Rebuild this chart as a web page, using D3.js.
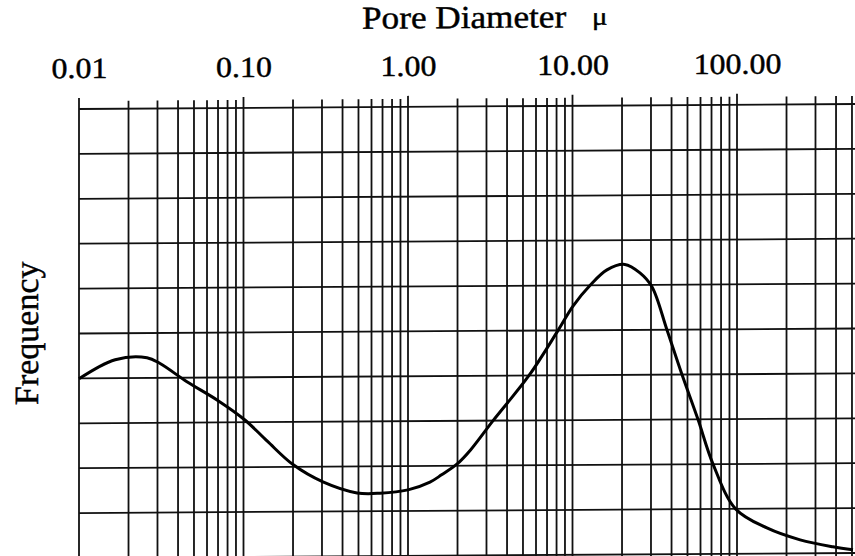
<!DOCTYPE html>
<html>
<head>
<meta charset="utf-8">
<script src="https://cdn.jsdelivr.net/npm/d3@7/dist/d3.min.js"></script>
<style>
  html, body { margin: 0; padding: 0; background: #fff; }
  svg { display: block; }
  text { font-family: "Liberation Serif", "Times New Roman", serif; fill: #000; stroke: #000; stroke-width: 0.45px; }
</style>
</head>
<body>
<div id="chart"></div>
<script>
// pore size distribution
const diameters = [0.01, 0.0166, 0.0259, 0.0311, 0.0453, 0.069, 0.102, 0.139, 0.2, 0.304,
    0.49, 0.676, 1.0, 1.36, 1.6, 1.99, 2.4, 3.29, 5.44, 8.17,
    10.07, 12.8, 16.2, 20.8, 25.7, 30.4, 37.5, 46.3, 57.9, 71.5,
    98, 152, 242, 383, 507];
const frequency = [3.99, 4.41, 4.45, 4.32, 3.91, 3.50, 3.05, 2.58, 2.05, 1.66,
    1.41, 1.40, 1.47, 1.64, 1.80, 2.04, 2.35, 3.0, 4.0, 5.0,
    5.54, 6.0, 6.34, 6.46, 6.27, 5.96, 5.0, 4.0, 3.0, 2.0,
    1.0, 0.57, 0.30, 0.14, 0.07];

const xTickValues = [0.01, 0.1, 1, 10, 100];
const xTickLabels = ["0.01", "0.10", "1.00", "10.00", "100.00"];
const yGridCount = 10;

(function () {
    const width = 855, height = 556;
    const plotLeft = 79, plotTop = 109, plotBottom = 558;

    const svg = d3.select("#chart").append("svg")
        .attr("width", width)
        .attr("height", height);

    // the scan is slightly sheared: right side sits a few px higher
    const root = svg.append("g")
        .attr("transform", `translate(${plotLeft},0) skewY(-0.37) translate(${-plotLeft},0)`);

    const x = d3.scaleLog().domain([0.01, 100]).range([plotLeft, 737]);
    const y = d3.scaleLinear().domain([0, yGridCount]).range([plotBottom, plotTop]);

    const gridX = x.copy().domain([0.01, 520]).range([plotLeft, x(520)]).ticks();
    const isDecade = d => Math.abs(Math.log10(d) - Math.round(Math.log10(d))) < 1e-6;

    const grid = root.append("g").attr("class", "grid")
        .attr("stroke", "#111")
        .attr("stroke-width", 1.8);

    grid.selectAll("line.v")
        .data(gridX)
        .enter()
        .append("line")
        .attr("class", "v")
        .attr("x1", d => x(d))
        .attr("x2", d => x(d))
        .attr("y1", d => isDecade(d) ? plotTop - 11 : plotTop - 8)
        .attr("y2", height + 10);

    grid.selectAll("line.h")
        .data(y.ticks(yGridCount))
        .enter()
        .append("line")
        .attr("class", "h")
        .attr("x1", plotLeft)
        .attr("x2", width + 10)
        .attr("y1", d => y(d))
        .attr("y2", d => y(d));

    // top axis labels
    const xAxis = d3.axisTop(x)
        .tickValues(xTickValues)
        .tickFormat((d, i) => xTickLabels[i])
        .tickSize(0)
        .tickPadding(0);

    const axisG = root.append("g")
        .attr("transform", "translate(0,78)")
        .call(xAxis);
    axisG.select(".domain").remove();
    axisG.selectAll("text")
        .attr("y", 0)
        .attr("dy", 0)
        .attr("x", 0)
        .attr("transform", "scale(1.1,1)")
        .style("font-family", "'Liberation Serif', serif")
        .style("font-size", "29px")
        .attr("fill", "#000");

    root.append("text")
        .attr("transform", "translate(362,30.5) scale(1.1,1)")
        .style("font-size", "32px")
        .text("Pore Diameter");

    root.append("text")
        .attr("transform", "translate(592,28) scale(1.15,1)")
        .style("font-size", "25px")
        .text("\u03bc");

    root.append("text")
        .attr("transform", "translate(37.5,333) rotate(-90)")
        .attr("text-anchor", "middle")
        .style("font-size", "34px")
        .text("Frequency");

    const line = d3.line()
        .x(d => x(d[0]))
        .y(d => y(d[1]))
        .curve(d3.curveCatmullRom.alpha(0.5));

    root.append("path")
        .datum(diameters.map((d, i) => [d, frequency[i]]))
        .attr("fill", "none")
        .attr("stroke", "#000")
        .attr("stroke-width", 3)
        .attr("stroke-linejoin", "round")
        .attr("d", line);
})();
</script>
</body>
</html>
